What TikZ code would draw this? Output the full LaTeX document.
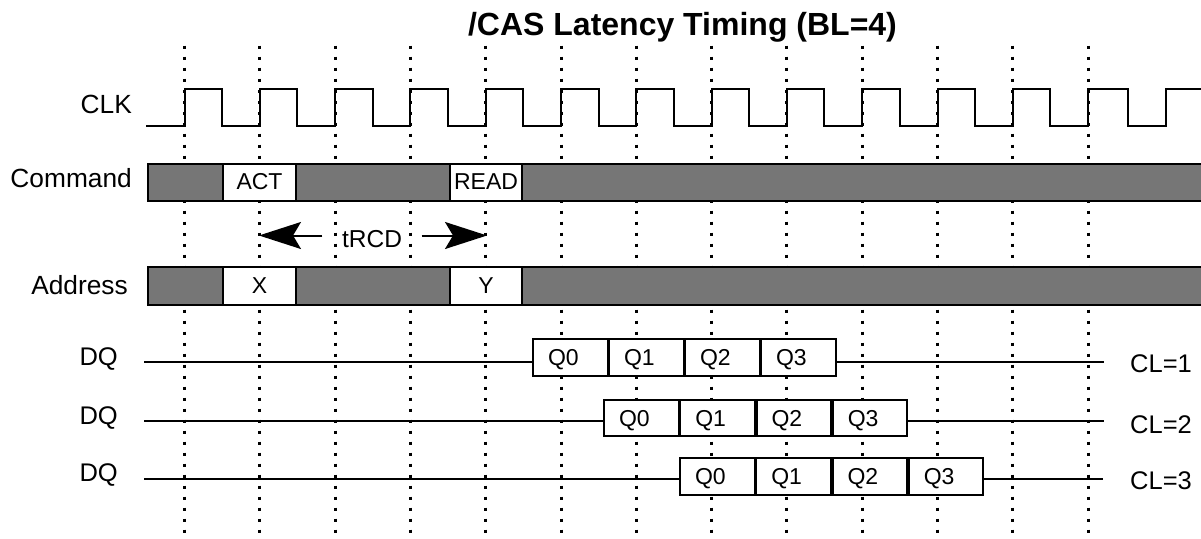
\documentclass[tikz,border=0pt]{standalone}
\usepackage{fontspec}
\setmainfont{Liberation Sans}
\usetikzlibrary{arrows.meta,calc}
\newcommand\myfs[1]{\fontsize{#1}{#1}\selectfont}
\definecolor{barfill}{RGB}{118,118,118}
\begin{document}
\begin{tikzpicture}[x=1pt,y=-1pt,
  sig/.style={line width=2pt, line join=miter},
  gridline/.style={line width=3pt, dash pattern=on 3pt off 8pt},
  bar/.style={line width=2pt, fill=barfill},
  cbox/.style={draw, line width=2pt, fill=white, inner sep=0pt, minimum height=37pt,
    text height=14pt, text depth=0pt, font=\myfs{23}},
  qbox/.style={draw, line width=2pt, fill=white, inner sep=0pt, inner xsep=15pt,
    minimum height=37pt, text width=44.5pt, align=left,
    text height=16pt, text depth=0pt, font=\myfs{23}},
  lbl/.style={inner sep=0pt, font=\myfs{26.3}},
  dqlbl/.style={inner sep=0pt, font=\myfs{25.5}},
  tarrow/.style={line width=2pt, -{Stealth[length=42pt, width=27pt, inset=8pt]}}]
\useasboundingbox (0,0) rectangle (1201,538);
% dotted clock grid
\foreach \k in {0,...,12}{
  \draw[gridline] ({184.5+75.3*\k},45.5) -- ({184.5+75.3*\k},532.5);
}
% title
\node[inner sep=0pt, font=\myfs{32}\bfseries, anchor=base] (title) at (682.5,35.5) {/CAS Latency Timing (BL=4)};
% labels
\node[lbl, anchor=base east] (clk) at (132,113) {CLK};
\node[lbl, anchor=base east] (cmd) at (132,187) {Command};
\node[lbl, anchor=base east] (addr) at (128,294) {Address};
\node[dqlbl, anchor=base east] (dq1) at (118,365) {DQ};
\node[dqlbl, anchor=base east] (dq2) at (118,424) {DQ};
\node[dqlbl, anchor=base east] (dq3) at (118,481) {DQ};
\node[dqlbl, anchor=base west] (cl1) at (1130,372) {CL=1};
\node[dqlbl, anchor=base west] (cl2) at (1130,433) {CL=2};
\node[dqlbl, anchor=base west] (cl3) at (1130,489) {CL=3};
% clock
\draw[sig] (146,126)
  foreach \k in {0,...,11}{
    -- ({184.5+75.3*\k},126) -- ({184.5+75.3*\k},89)
    -- ({222+75.3*\k},89) -- ({222+75.3*\k},126) }
  -- (1088,126) -- (1088,89) -- (1128,89) -- (1128,126)
  -- (1166,126) -- (1166,89) -- (1205,89);
% command bar
\draw[bar] (148,164) rectangle (1215,201);
\node[cbox, minimum width=73pt] (act) at (259.5,182.5) {ACT};
\node[cbox, minimum width=72pt] (read) at (486,182.5) {READ};
% tRCD
\coordinate (tl) at (259,235.5);
\coordinate (tr) at (487,235.5);
\node[inner sep=0pt, inner xsep=19.5pt, text height=17pt, text depth=0pt, font=\myfs{24.5}] (trcd) at (372,238.5) {tRCD};
\draw[tarrow] (trcd.west |- tl) -- (tl);
\draw[tarrow] (trcd.east |- tr) -- (tr);
% address bar
\draw[bar] (148,267) rectangle (1215,305);
\node[cbox, minimum width=73pt, minimum height=38pt] (ax) at (259.5,286) {X};
\node[cbox, minimum width=72pt, minimum height=38pt] (ay) at (486,286) {Y};
% DQ lines
\coordinate (d1s) at (144,362); \coordinate (d1e) at (1104,362);
\coordinate (d2s) at (144,421); \coordinate (d2e) at (1104,421);
\coordinate (d3s) at (144,479); \coordinate (d3e) at (1103,479);
\draw[sig] (d1s) -- (d1e);
\draw[sig] (d2s) -- (d2e);
\draw[sig] (d3s) -- (d3e);
% data bursts
\foreach \i in {0,...,3}{
  \node[qbox] (a\i) at ({533+37.25+76*\i},357.5) {Q\i};
  \node[qbox, minimum height=36pt] (b\i) at ({604+37.25+76.25*\i},418) {Q\i};
  \node[qbox] (c\i) at ({680+37.25+76.25*\i},476.5) {Q\i};
}
\end{tikzpicture}
\end{document}
